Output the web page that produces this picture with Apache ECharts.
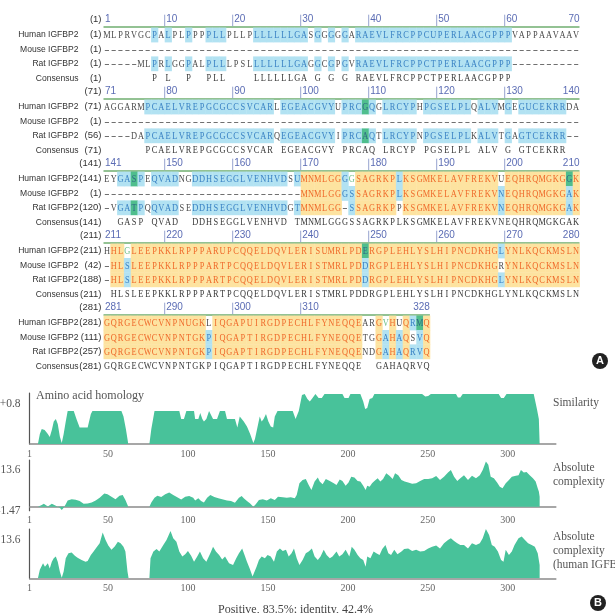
<!DOCTYPE html>
<html>
<head>
<meta charset="utf-8">
<script src="https://cdn.jsdelivr.net/npm/echarts@6/dist/echarts.min.js"></script>
<style>
  html, body { margin: 0; padding: 0; background: #fff; }
  #chart { width: 615px; height: 613px; }
</style>
</head>
<body>
<div id="chart"></div>
<script>
  // ---------- panel A : alignment ----------
  var blockStarts = [1, 71, 141, 211, 281];
  var rulerLabels = [
    [1, 10, 20, 30, 40, 50, 60, 70],
    [71, 80, 90, 100, 110, 120, 130, 140],
    [141, 150, 160, 170, 180, 190, 200, 210],
    [211, 220, 230, 240, 250, 260, 270, 280],
    [281, 290, 300, 310, 328]
  ];
  var rowNames = ['Human IGFBP2', 'Mouse IGFBP2', 'Rat IGFBP2', 'Consensus'];
  var humanStart = [1, 71, 141, 211, 281];
  var mouseStart = [1, 1, 1, 42, 111];
  var ratStart = [1, 56, 120, 188, 257];

  var humanSeq = [
    'MLPRVGCPALPLPPPPLLPLLPLLLLLLGASGGGGGARAEVLFRCPPCUPERLAACGPPPVAPPAAVAAV',
    'AGGARMPCAELVREPGCGCCSVCARLEGEACGVYUPRCGQGLRCYPHPGSELPLQALVMGEGUCEKRRDA',
    'EYGASPEQVADNGDDHSEGGLVENHVDSUMNMLGGGGSAGRKPLKSGMKELAVFREKVUEQHRQMGKGGK',
    'HHLGLEEPKKLRPPPARUPCQQELDQVLERISUMRLPDERGPLEHLYSLHIPNCDKHGLYNLKQCKMSLN',
    'GQRGECWCVNPNUGKLIQGAPUIRGDPECHLFYNEQQEARGVHUQRMQ'
  ];
  var mouseSeq = [
    '----------------------------------------------------------------------',
    '----------------------------------------------------------------------',
    '-----------------------------MNMLGGGSSAGRKPLKSGMKELAVFREKVNEQHRQMGKGAK',
    '-HLSLEEPKKLRPPPARTPCQQELDQVLERISTMRLPDDRGPLEHLYSLHIPNCDKHGRYNLKQCKMSLN',
    'GQRGECWCVNPNTGKPIQGAPTIRGDPECHLFYNEQQETGGAHAQSVQ'
  ];
  var ratSeq = [
    '-----MLPRLGGPALPLLLPSLLLLLLLGAGGCGPGVRAEVLFRCPPCTPERLAACGPPP----------',
    '----DAPCAELVREPGCGCCSVCARQEGEACGVYIPRCAQTLRCYPNPGSELPLKALVTGAGTCEKRR--',
    '-VGATPQQVADSEDDHSEGGLVENHVDGTMNMLGG-SSAGRKPPKSGMKELAVFREKVNEQHRQMGKGAK',
    '-HLSLEEPKKLRPPPARTPCQQELDQVLERISTMRLPDDRGPLEHLYSLHIPNCDKHGLYNLKQCKMSLN',
    'GQRGECWCVNPNTGKPIQGAPTIRGDPECHLFYNEQQENDGAHAQRVQ'
  ];
  var consensusSeq = [
    '       P L  P  PLL    LLLLLLGA G G G RAEVLFRCPPCTPERLAACGPPP',
    '      PCAELVREPGCGCCSVCAR EGEACGVY PRCAQ LRCYP PGSELPL ALV G GTCEKRR',
    '  GASP QVAD  DDHSEGGLVENHVD TMNMLGGGSSAGRKPLKSGMKELAVFREKVNEQHRQMGKGAK',
    ' HLSLEEPKKLRPPPARTPCQQELDQVLERISTMRLPDDRGPLEHLYSLHIPNCDKHGLYNLKQCKMSLN',
    'GQRGECWCVNPNTGKPIQGAPTIRGDPECHLFYNEQQE  GAHAQRVQ'
  ];

  // shading per block, column ranges inside the block
  // y = identical, b = conserved, g = similar block, w = weakly similar
  var blk1 = [[8,8],[10,10],[13,13],[16,18],[23,30],[32,32],[34,34],[36,36],[38,60]];
  var blk2 = [[7,25],[27,34],[36,38],[40,40],[42,46],[48,54],[56,58],[60,60],[62,68]];
  var ident3 = [[30,35],[38,43],[45,58],[60,68],[70,70]];
  var ident4 = [[2,3],[5,38],[40,58],[60,70]];
  var ident5 = [[1,15],[17,38],[41,41],[43,43],[45,45],[48,48]];
  var humanShade = [
    { b: blk1 },
    { b: blk2, g: [[39,39]] },
    { y: ident3, b: [[3,4],[6,6],[8,11],[14,27],[29,29],[36,36],[44,44]], g: [[5,5],[69,69]], w: [[37,37]] },
    { y: ident4, w: [[4,4]], g: [[39,39]], b: [[59,59]] },
    { y: ident5, w: [[42,42]], b: [[46,46]], g: [[47,47]] }
  ];
  var mouseShade = [
    {},
    {},
    { y: ident3, b: [[36,37],[44,44],[59,59],[69,69]] },
    { y: ident4, b: [[4,4],[39,39]] },
    { y: ident5, b: [[16,16],[42,42],[44,44],[47,47]] }
  ];
  var ratShade = [
    { b: blk1 },
    { b: blk2, g: [[39,39]] },
    { y: ident3, b: [[3,4],[6,6],[8,11],[14,27],[29,29],[37,37],[59,59],[69,69]], g: [[5,5]] },
    { y: ident4, b: [[4,4],[39,39],[59,59]] },
    { y: ident5, b: [[16,16],[42,42],[44,44],[46,47]] }
  ];

  // ---------- panel B : plots ----------
  var similarityPts = [
    [6.2,0],[7.4,0.2],[8.6,0.3],[9.4,0.32],[10.4,0.28],[11.4,0.32],[12.4,0.2],[13.6,0.14],[14.9,0.28],
    [16.1,0.45],[17.4,0.5],[18.6,0.4],[19.9,0.15],[21.1,0.02],[22.3,0.2],[23.6,0.45],[24.8,0.66],
    [28.6,0.66],[30.3,0.5],[32.3,0.33],[37.3,0.33],[39.3,0.6],[40.3,0.66],[58.4,0.66],[59.7,0.55],
    [61.2,0.3],[62.7,0],[75.9,0],[77.1,0.3],[79.1,0.66],[94.6,0.66],[95.8,0.5],[97.5,0.5],[99,0.66],
    [103.8,0.66],[104.5,0.5],[106.5,0.5],[107.7,0.62],[109,0.5],[110,0.45],[111.5,0.5],[113.2,0.66],
    [115.7,0.5],[118.2,0.5],[120,0.66],[123.2,0.66],[124.4,0.5],[129.4,0.5],[130.9,0.33],[132.4,0.55],
    [133.6,0.55],[134.9,0.45],[136.9,0.35],[138.9,0.2],[140.9,0.02],[141.9,0.1],[143.9,0.4],[144.9,0.55],
    [146.1,0.45],[147.3,0.5],[148.8,0.6],[150.3,0.45],[151.8,0.35],[153.3,0.33],[154.3,0.55],[156,0.66],
    [165.5,0.66],[167.3,0.5],[169.3,0.66],[171.3,0.98],[173,1],[174.7,0.9],[176.2,0.85],[177.9,0.92],
    [179.7,1],[181.7,0.92],[183.7,0.92],[185.4,1],[196.6,1],[197.9,0.92],[200.4,0.92],[201.6,1],
    [207.8,1],[209.6,0.85],[210.8,0.7],[212.1,0.72],[213.6,0.9],[215.3,0.92],[216.6,1],[246.4,1],
    [248.4,0.95],[250.2,0.96],[251.9,1],[267.6,1],[268.8,0.93],[270.3,0.93],[271.8,1],[294.3,1],
    [295.8,0.92],[297.5,0.92],[299.2,1],[316.2,1],[318.2,0.7],[319.4,0.5],[319.9,0.5]
  ];
  var complexityPts = [
    [6.2,0],[8.6,0.6],[9.9,1.1],[11.1,0.4],[12.4,0.1],[13.6,0.6],[14.9,1.1],[16.1,0.6],[17.4,0.4],
    [19.9,-0.4],[21.1,-1.2],[22.3,-0.4],[23.6,0.9],[24.8,2.3],[27.3,2.8],[29.8,2.6],[32.3,2.1],[34.8,1.1],
    [37.3,1.2],[39.8,1.6],[42.3,2.3],[44.8,3.3],[47.7,4.9],[49.7,4.6],[52.2,3.7],[54.7,2.8],[57.2,4.1],
    [59.2,4.3],[60.9,2.5],[62.7,0],[75.9,0],[77.1,1.6],[79.1,3.3],[80.9,4.1],[83.3,3.6],[85.8,4.6],
    [88.3,5.3],[90.8,4.3],[93.3,3.5],[95.8,2.7],[98.3,3.7],[100.8,4.0],[103.3,3.3],[104.5,2.3],[106.5,3.1],
    [108.2,2.1],[110,1.6],[112,3.3],[114,4.3],[116.5,3.6],[119,3.1],[122,2.7],[124.4,2.3],[126.9,2.1],
    [129.4,1.5],[131.9,3.3],[133.6,4.0],[134.9,3.1],[136.9,2.1],[138.9,1.2],[140.9,0],[142.4,0.9],
    [144.4,2.5],[146.8,2.8],[149.3,2.3],[151.8,3.1],[154.3,2.5],[156.3,3.7],[159.3,3.5],[161.8,3.3],
    [164.3,3.5],[166.8,3.1],[168,4.3],[169.7,8.7],[171.7,9.9],[173.7,10.3],[175.5,8.0],[177.2,6.2],
    [179.2,9.3],[181.2,10.8],[182.4,9.3],[184.2,8.3],[186.2,10.3],[188.7,9.5],[191.2,8.7],[192.9,8.0],
    [194.9,10.1],[196.6,9.5],[198.6,7.8],[200.4,9.0],[202.1,11.1],[204.1,10.8],[206.1,9.5],[207.8,9.3],
    [209.6,7.8],[211.1,6.2],[212.1,7.8],[213.6,7.4],[215.1,8.7],[216.6,9.5],[218.6,10.5],[220.3,9.3],
    [222,10.3],[224,12.4],[226,11.5],[228,10.3],[229.5,12.4],[231.5,11.7],[233.5,9.9],[235.5,9.3],
    [237.7,9.0],[240.2,8.5],[242.7,8.7],[245.2,9.5],[247.7,10.3],[250.2,10.3],[252.7,10.5],[255.2,11.4],
    [257.6,9.9],[260.1,11.1],[262.6,12.7],[264.4,13.6],[266.4,11.1],[268.4,9.5],[270.3,10.5],[272.6,11.7],
    [275.1,9.9],[277.6,11.5],[280.1,10.5],[282.5,11.7],[284.3,13.6],[286.3,16.7],[287.8,15.5],[289.3,11.1],
    [291.3,10.5],[293.3,9.0],[295,7.4],[296.7,6.8],[298.7,8.7],[300.7,9.9],[302.5,11.1],[305,11.5],
    [306.7,11.7],[308.2,13.6],[310,12.7],[311.7,12.9],[313.7,11.7],[315.7,10.5],[317.4,9.3],[318.7,6.8],
    [319.4,5.6],[319.9,3.7]
  ];
  var humanComplexityPts = [
    [6.2,0],[7.4,3.0],[9.4,5.3],[10.6,4.1],[12.4,5.3],[13.6,3.5],[14.9,5.9],[16.1,7.1],[17.4,7.7],
    [18.6,5.9],[19.9,2.4],[21.1,0.2],[22.3,2.4],[23.6,7.1],[25.3,8.9],[27.3,9.2],[29.3,8.0],[31,7.3],
    [33.5,6.5],[36,5.9],[37.3,6.1],[39.3,8.3],[41,9.5],[42.8,10.9],[44.8,12.4],[46.7,16.3],[48.5,13.6],
    [50.2,11.6],[52.2,10.1],[54.2,11.3],[56.2,13.0],[57.9,12.4],[59.7,11.2],[60.9,9.5],[62.2,2.4],[62.9,0],
    [75.9,0],[76.6,7.1],[78.4,9.5],[80.4,10.4],[82.1,9.5],[84.6,11.8],[86.6,13.6],[89.1,16.8],[90.8,14.2],
    [92.8,13.0],[94.6,9.5],[96.5,7.7],[98.3,8.5],[100,9.7],[102,8.0],[103.8,5.9],[105.8,7.7],[107.5,9.5],
    [109.5,7.1],[111.5,5.9],[114,8.9],[115.7,11.2],[117.5,9.5],[119.5,8.3],[121.4,6.7],[123.2,7.7],
    [125.7,5.3],[128.2,4.7],[130.2,7.1],[131.9,8.9],[133.9,10.6],[135.4,8.3],[136.9,5.9],[138.6,3.5],
    [140.4,0.6],[141.4,0.2],[142.9,4.1],[144.4,6.5],[146.1,7.7],[148.1,7.1],[149.8,8.3],[151.8,7.7],
    [153.8,5.9],[155.6,9.5],[157.5,10.6],[159.3,9.7],[161.3,10.1],[163,7.7],[164.8,8.9],[166.3,10.6],
    [168,7.1],[169.7,4.7],[171.7,6.5],[173.7,8.9],[175.5,9.5],[177.5,10.6],[179.2,7.7],[181.2,6.5],
    [182.9,7.7],[184.9,10.1],[186.7,8.3],[188.7,7.1],[190.4,7.7],[192.9,9.5],[194.6,7.7],[196.6,8.5],
    [198.6,10.1],[200.9,7.7],[202.4,11.2],[204.1,10.1],[206.1,8.3],[207.8,7.1],[209.6,6.5],[211.1,4.1],
    [212.1,7.7],[214.1,7.1],[216.1,9.5],[217.8,8.9],[219.8,8.3],[221.5,10.4],[223.5,11.8],[225.3,8.9],
    [227,8.3],[229,10.1],[231,8.5],[233.5,9.5],[235.2,10.4],[237.7,10.6],[240.2,9.7],[242.7,10.1],
    [245.2,9.5],[247.7,9.7],[250.2,10.6],[252.7,11.2],[255.2,11.6],[257.6,10.6],[260.1,12.4],[262.6,13.6],
    [264.4,14.2],[266.4,13.2],[268.4,12.4],[270.3,11.8],[272.6,11.8],[275.1,10.6],[277.6,12.4],[280.1,11.8],
    [282.5,12.4],[284.3,14.2],[286.3,17.5],[288.3,15.4],[290,11.8],[291.8,11.2],[293.8,9.5],[295.8,6.5],
    [297.3,5.9],[298.7,10.1],[300.7,8.3],[302.5,9.5],[304.2,11.8],[306.7,14.2],[308.7,14.8],[310.7,13.6],
    [312.7,12.4],[314.9,11.8],[316.9,11.2],[318.7,8.9],[319.9,4.7]
  ];
  var positionTicks = [1, 50, 100, 150, 200, 250, 300];

  // ---------- build alignment cells ----------
  var BLOCK_STEP = 5;
  var ROW_Y = { ruler: -1.05, line: -0.55, human: 0, mouse: 1, rat: 2, cons: 3 };
  var BG = { b: '#b2e2f2', g: '#4fbe8d', y: '#fde3a0' };
  var FG = { n: '#4a4a4a', b: '#3a82c4', g: '#2f6a86', y: '#ef6a2b', w: '#6fbf8a', c: '#383838' };
  var SEQ_FONT = '11px "Liberation Serif", "DejaVu Serif", serif';
  var LBL_FONT = '9.5px "Liberation Sans", Arial, sans-serif';

  function shadeOf(spec, col) {
    for (var k in spec) {
      var rs = spec[k];
      for (var i = 0; i < rs.length; i++) {
        if (col >= rs[i][0] && col <= rs[i][1]) return k;
      }
    }
    return 'n';
  }

  var cells = [];
  function addRow(seqs, shades, key) {
    for (var b = 0; b < seqs.length; b++) {
      var s = seqs[b];
      for (var i = 0; i < s.length; i++) {
        var ch = s.charAt(i);
        if (ch === ' ') continue;
        var cls = key === 'cons' ? 'c' : shadeOf(shades[b], i + 1);
        cells.push({ value: [i + 0.5, b * BLOCK_STEP + ROW_Y[key]], ch: ch, cls: cls });
      }
    }
  }
  addRow(humanSeq, humanShade, 'human');
  addRow(mouseSeq, mouseShade, 'mouse');
  addRow(ratSeq, ratShade, 'rat');
  addRow(consensusSeq, null, 'cons');

  // left-hand labels
  var labels = [];
  blockStarts.forEach(function (st, b) {
    var y0 = b * BLOCK_STEP;
    labels.push({ value: [0, y0 + ROW_Y.ruler], name: '', num: '(' + st + ')' });
    labels.push({ value: [0, y0 + ROW_Y.human], name: rowNames[0], num: '(' + humanStart[b] + ')' });
    labels.push({ value: [0, y0 + ROW_Y.mouse], name: rowNames[1], num: '(' + mouseStart[b] + ')' });
    labels.push({ value: [0, y0 + ROW_Y.rat], name: rowNames[2], num: '(' + ratStart[b] + ')' });
    labels.push({ value: [0, y0 + ROW_Y.cons], name: rowNames[3], num: '(' + st + ')' });
  });

  // ruler numbers
  var rulerItems = [];
  rulerLabels.forEach(function (arr, b) {
    arr.forEach(function (n, k) {
      rulerItems.push({
        value: [n - blockStarts[b], b * BLOCK_STEP + ROW_Y.ruler],
        text: String(n),
        kind: k === 0 ? 'first' : (k === arr.length - 1 ? 'last' : 'mid')
      });
    });
  });
  var rulerLines = humanSeq.map(function (s, b) {
    return [0, s.length, b * BLOCK_STEP + ROW_Y.line];
  });

  function txt(x, y, t, fill, font, align, sx) {
    return {
      type: 'text', x: x, y: y, scaleX: sx || 1,
      style: {
        text: t, fill: fill, font: font,
        align: align, verticalAlign: 'middle',
        textAlign: align, textVerticalAlign: 'middle'
      }
    };
  }

  var chart = echarts.init(document.getElementById('chart'));

  var serif = '"Liberation Serif", "DejaVu Serif", serif';
  function bottomAxis(idx) {
    return {
      gridIndex: idx, type: 'value', min: 1, max: 330,
      axisLine: { show: true, onZero: true, lineStyle: { color: '#8a8a8a', width: 1.5 } },
      axisTick: { show: false },
      splitLine: { show: false },
      axisLabel: { customValues: positionTicks, color: '#666', fontFamily: serif, fontSize: 10, margin: 5 }
    };
  }
  function leftAxis(idx, min, max, ticks, fmt) {
    return {
      gridIndex: idx, type: 'value', min: min, max: max,
      axisLine: { show: true, onZero: false, lineStyle: { color: '#555', width: 1.2 } },
      axisTick: { show: false },
      splitLine: { show: false },
      axisLabel: { customValues: ticks, formatter: fmt, color: '#555', fontFamily: serif, fontSize: 11.5, margin: 9 }
    };
  }
  function areaSeries(idx, pts) {
    return {
      type: 'line', xAxisIndex: idx, yAxisIndex: idx, data: pts,
      showSymbol: false, smooth: false,
      lineStyle: { width: 0 },
      areaStyle: { color: '#48c29a', opacity: 1 },
      silent: true
    };
  }
  function gridAt(left, right, top, bottom) {
    return { left: left, right: right, top: top, bottom: bottom, containLabel: false, outerBoundsMode: 'none' };
  }

  var option = {
    animation: false,
    backgroundColor: '#fff',
    grid: [
      gridAt(103.5, 35.5, 6, 232.6),
      gridAt(29.6, 59.2, 393, 169),
      gridAt(29.6, 59.2, 460, 102.3),
      gridAt(29.6, 59.2, 529, 34.7)
    ],
    xAxis: [
      { gridIndex: 0, type: 'value', min: 0, max: 70, show: false },
      bottomAxis(1), bottomAxis(2), bottomAxis(3)
    ],
    yAxis: [
      { gridIndex: 0, type: 'value', min: -2, max: 24, inverse: true, show: false },
      leftAxis(1, 0, 1.02, [0.8], function () { return '+0.8'; }),
      leftAxis(2, -1.47, 17.3, [-1.47, 13.6], function (v) { return v > 0 ? '+13.6' : '-1.47'; }),
      leftAxis(3, 0, 17.5, [13.6], function () { return '+13.6'; })
    ],
    series: [
      {
        type: 'custom', xAxisIndex: 0, yAxisIndex: 0, clip: false, silent: true,
        data: rulerLines,
        renderItem: function (params, api) {
          var a = api.coord([api.value(0), api.value(2)]);
          var b = api.coord([api.value(1), api.value(2)]);
          return {
            type: 'line',
            shape: { x1: a[0], y1: a[1], x2: b[0], y2: b[1] },
            style: { stroke: '#6fae6f', lineWidth: 1.5 }
          };
        }
      },
      {
        type: 'custom', xAxisIndex: 0, yAxisIndex: 0, clip: false, silent: true,
        data: rulerItems.map(function (r) { return r.value; }),
        renderItem: function (params, api) {
          var r = rulerItems[params.dataIndex];
          var p = api.coord([api.value(0), api.value(1)]);
          var w = api.size([1, 0])[0];
          var color = '#5b6cb4';
          var font = '10px "Liberation Sans", Arial, sans-serif';
          if (r.kind === 'last') {
            return txt(p[0] + w, p[1], r.text, color, font, 'right');
          }
          var tx = txt(p[0] + 1.5, p[1], r.text, color, font, 'left');
          if (r.kind === 'first') return tx;
          return {
            type: 'group',
            children: [
              { type: 'line', shape: { x1: p[0], y1: p[1] - 5, x2: p[0], y2: p[1] + 6.5 },
                style: { stroke: '#97a3cf', lineWidth: 1 } },
              tx
            ]
          };
        }
      },
      {
        type: 'custom', xAxisIndex: 0, yAxisIndex: 0, clip: false, silent: true,
        data: labels.map(function (l) { return l.value; }),
        renderItem: function (params, api) {
          var l = labels[params.dataIndex];
          var p = api.coord([api.value(0), api.value(1)]);
          var kids = [txt(p[0] - 2, p[1], l.num, '#333', LBL_FONT, 'right')];
          if (l.name) kids.push(txt(p[0] - 25, p[1], l.name, '#333', LBL_FONT, 'right', 0.9));
          return { type: 'group', children: kids };
        }
      },
      {
        type: 'custom', xAxisIndex: 0, yAxisIndex: 0, clip: false, silent: true,
        data: cells.map(function (c) { return c.value; }),
        renderItem: function (params, api) {
          var c = cells[params.dataIndex];
          var p = api.coord([api.value(0), api.value(1)]);
          var sz = api.size([1, 1]);
          var kids = [];
          if (BG[c.cls]) {
            kids.push({
              type: 'rect',
              shape: { x: p[0] - sz[0] / 2, y: p[1] - sz[1] / 2, width: sz[0] + 0.4, height: sz[1] + 0.4 },
              style: { fill: BG[c.cls] }
            });
          }
          var sx = c.ch === '-' ? 1.45 : 0.76;
          kids.push(txt(p[0], p[1] + 0.5, c.ch, FG[c.cls], SEQ_FONT, 'center', sx));
          return { type: 'group', children: kids };
        }
      },
      areaSeries(1, similarityPts),
      areaSeries(2, complexityPts),
      areaSeries(3, humanComplexityPts)
    ],
    graphic: [
      { type: 'text', left: 36, top: 390, style: { text: 'Amino acid homology', font: '12px ' + serif, fill: '#555' } },
      { type: 'text', left: 553, top: 397, style: { text: 'Similarity', font: '11.5px ' + serif, fill: '#555' } },
      { type: 'text', left: 553, top: 461, style: { text: 'Absolute\ncomplexity', font: '11.5px ' + serif, fill: '#555', lineHeight: 14 } },
      { type: 'text', left: 553, top: 530, style: { text: 'Absolute\ncomplexity\n(human IGFBP2)', font: '11.5px ' + serif, fill: '#555', lineHeight: 14 } },
      { type: 'text', left: 218, top: 604, style: { text: 'Positive, 83.5%; identity, 42.4%', font: '12px ' + serif, fill: '#444' } },
      { type: 'circle', shape: { cx: 600, cy: 361, r: 8 }, style: { fill: '#222' } },
      { type: 'text', x: 600, y: 361, style: { text: 'A', font: 'bold 11px "Liberation Sans", Arial', fill: '#fff', align: 'center', verticalAlign: 'middle', textAlign: 'center', textVerticalAlign: 'middle' } },
      { type: 'circle', shape: { cx: 598, cy: 603, r: 8 }, style: { fill: '#222' } },
      { type: 'text', x: 598, y: 603, style: { text: 'B', font: 'bold 11px "Liberation Sans", Arial', fill: '#fff', align: 'center', verticalAlign: 'middle', textAlign: 'center', textVerticalAlign: 'middle' } }
    ]
  };

  chart.setOption(option);
</script>
</body>
</html>
